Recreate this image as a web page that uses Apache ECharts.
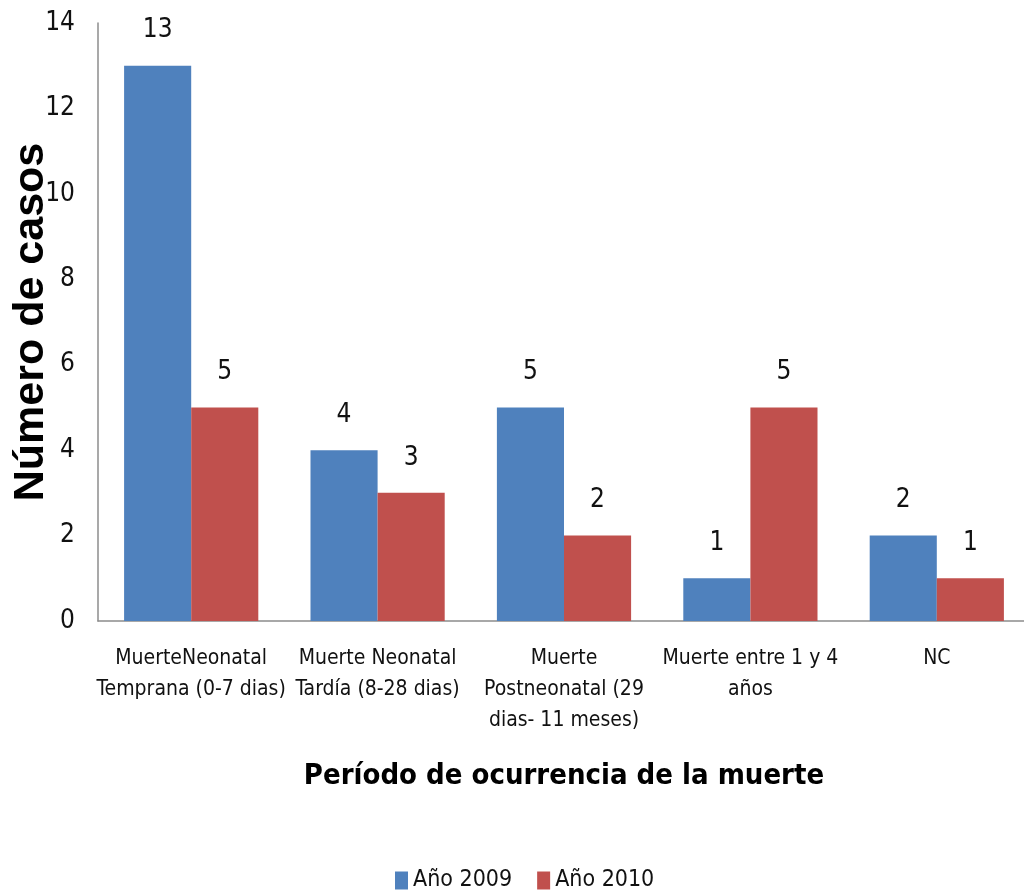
<!DOCTYPE html>
<html>
<head>
<meta charset="utf-8">
<title>Período de ocurrencia de la muerte</title>
<script src="https://cdn.jsdelivr.net/npm/echarts@6/dist/echarts.min.js"></script>
<style>
  html, body { margin: 0; padding: 0; background: #ffffff; }
  #chart { width: 1024px; height: 892px; }
</style>
</head>
<body>
<div id="chart"></div>
<script>
// Periods of occurrence of death
const categories = [
  'MuerteNeonatal\nTemprana (0-7 dias)',
  'Muerte Neonatal\nTardía (8-28 dias)',
  'Muerte\nPostneonatal (29\ndias- 11 meses)',
  'Muerte entre 1 y 4\naños',
  'NC'
];
// Number of cases per year
const cases2009 = [13, 4, 5, 1, 2];
const cases2010 = [5, 3, 2, 5, 1];
const seriesNames = ['Año 2009', 'Año 2010'];
const yTicks = { min: 0, max: 14, interval: 2 };

const narrow = "'Liberation Sans Narrow', 'DejaVu Sans Condensed', 'Liberation Sans', sans-serif";
const wide = "'Liberation Sans', Arial, sans-serif";

const chart = echarts.init(document.getElementById('chart'), null, { renderer: 'canvas' });

const labelStyle = {
  show: true,
  position: 'top',
  distance: 22,
  color: '#111',
  fontFamily: narrow,
  fontSize: 26
};

chart.setOption({
  animation: false,
  backgroundColor: '#ffffff',
  grid: { left: 98, top: 23, right: -6, bottom: 271, containLabel: false, outerBoundsMode: 'none' },
  legend: {
    data: seriesNames,
    left: 390,
    top: 864,
    itemWidth: 13,
    itemHeight: 18,
    itemGap: 25,
    icon: 'rect',
    textStyle: { fontFamily: narrow, fontSize: 23, color: '#111' }
  },
  xAxis: {
    type: 'category',
    data: categories,
    name: 'Período de ocurrencia de la muerte',
    nameLocation: 'middle',
    nameGap: 141,
    nameMoveOverlap: false,
    nameTextStyle: { fontFamily: narrow, fontWeight: 'bold', fontSize: 29, color: '#000' },
    axisLine: { lineStyle: { color: '#8c8c8c', width: 1.5 } },
    axisTick: { show: false },
    axisLabel: {
      interval: 0,
      margin: 22,
      fontFamily: narrow,
      fontSize: 21,
      lineHeight: 31,
      color: '#111'
    }
  },
  yAxis: {
    type: 'value',
    min: yTicks.min,
    max: yTicks.max,
    interval: yTicks.interval,
    name: 'Número de casos',
    nameLocation: 'middle',
    nameGap: 45,
    nameMoveOverlap: false,
    nameTextStyle: { fontFamily: wide, fontWeight: 'bold', fontSize: 43, color: '#000' },
    axisLine: { show: true, lineStyle: { color: '#8c8c8c', width: 1.5 } },
    axisTick: { show: false },
    splitLine: { show: false },
    axisLabel: { margin: 23, fontFamily: narrow, fontSize: 26, color: '#111' }
  },
  series: [
    {
      name: seriesNames[0],
      type: 'bar',
      data: cases2009,
      barGap: '0%',
      barCategoryGap: '28%',
      itemStyle: { color: '#4F81BD' },
      label: labelStyle
    },
    {
      name: seriesNames[1],
      type: 'bar',
      data: cases2010,
      itemStyle: { color: '#C0504D' },
      label: labelStyle
    }
  ]
});
</script>
</body>
</html>
